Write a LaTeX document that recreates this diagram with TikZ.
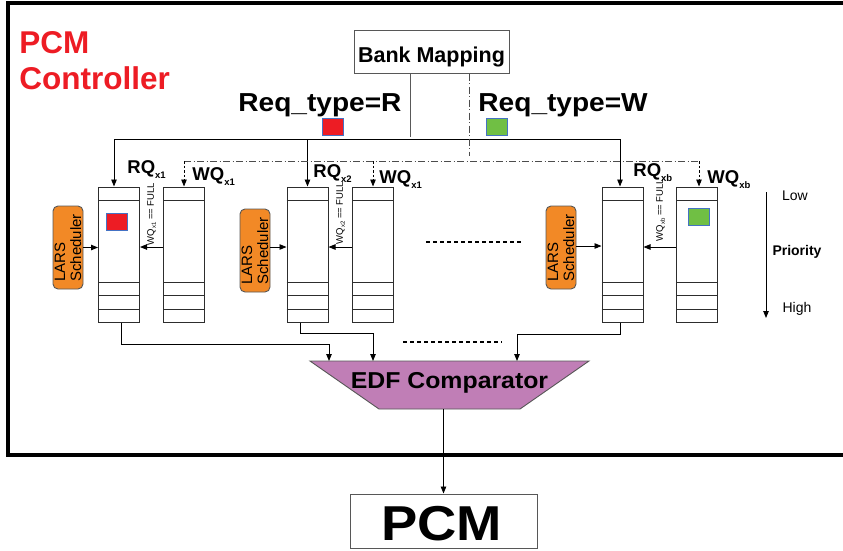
\documentclass[tikz,border=0pt]{standalone}
\usepackage{fontspec}
\setmainfont{Liberation Sans}
\usepackage{graphicx}
\usetikzlibrary{arrows.meta,calc}

\definecolor{ctrlred}{RGB}{237,28,36}
\definecolor{larsorange}{RGB}{242,137,38}
\definecolor{edfpurple}{RGB}{192,126,182}
\definecolor{reqgreen}{RGB}{112,191,68}
\definecolor{tagblue}{RGB}{68,114,196}
\definecolor{edge}{RGB}{45,45,45}

\newcommand{\setfs}[2]{\fontsize{#1}{#2}\selectfont}
\newcommand{\qsub}[1]{\raisebox{-5pt}{\setfs{9.5}{9.5}#1}}
\newcommand{\fsub}[1]{\raisebox{-2pt}{\setfs{6}{6}#1}}

\begin{document}
\begin{tikzpicture}[x=1pt,y=-1pt,
  line width=0.9pt,
  >={Triangle[length=7pt,width=5.5pt]},
  qbox/.style={draw=edge,line width=1pt,minimum width=41pt,minimum height=135pt,inner sep=0pt},
  larsbox/.style={draw=edge!80,fill=larsorange,rounded corners=5pt,minimum width=30pt,minimum height=83pt,inner sep=0pt},
  larstext/.style={rotate=90,align=left,font=\setfs{15}{16},inner sep=0pt},
  qlabel/.style={anchor=base west,inner sep=0pt,font=\bfseries\setfs{18.5}{18.5}},
  fulltext/.style={rotate=90,inner sep=0pt,font=\setfs{9.5}{9.5}},
  tagsq/.style={draw=tagblue,line width=0.8pt,minimum width=21pt,minimum height=17pt,inner sep=0pt},
  wline/.style={dash pattern=on 7pt off 2.5pt on 1pt off 2.5pt,draw=gray!60!black},
  wdrop/.style={->,dash pattern=on 2.5pt off 2pt},
  sepdots/.style={dash pattern=on 4pt off 3pt,line width=1.2pt},
  plainbox/.style={draw=edge!80,line width=1pt,inner sep=0pt},
]
\useasboundingbox (0,0) rectangle (843,550);

% controller frame (open on the right)
\draw[line width=3.5pt] (843,3) -- (8,3) -- (8,455) -- (843,455);

% title
\node[anchor=base west,inner sep=0pt,text=ctrlred,font=\bfseries\setfs{31.5}{31.5}] (title1) at (19,53) {PCM};
\node[anchor=base west,inner sep=0pt,text=ctrlred,font=\bfseries\setfs{31.5}{31.5}] (title2) at (19,89) {Controller};

% bank mapping
\node[plainbox,minimum width=155pt,minimum height=43pt] (bank) at (431.5,51.5) {};
\node[anchor=base,inner sep=0pt,font=\bfseries\setfs{21.5}{21.5}] (banktext) at (431.5,62.5) {Bank Mapping};

% request type labels and tags
\node[anchor=base west,inner sep=0pt,font=\bfseries\setfs{26}{26}] (reqr) at (238,111) {\scalebox{1.08}[1]{Req\_type=R}};
\node[anchor=base west,inner sep=0pt,font=\bfseries\setfs{26}{26}] (reqw) at (478,111) {\scalebox{1.08}[1]{Req\_type=W}};
\node[tagsq,fill=ctrlred] (tagr) at (332.5,126.5) {};
\node[tagsq,fill=reqgreen] (tagw) at (496.5,126.5) {};

% queues
\node[qbox] (rq1) at (119,254.5) {};
\node[qbox] (wq1) at (184,254.5) {};
\node[qbox] (rq2) at (307.5,254.5) {};
\node[qbox] (wq2) at (373,254.5) {};
\node[qbox] (rq3) at (622.5,254.5) {};
\node[qbox] (wq3) at (697,254.5) {};
\foreach \q in {rq1,wq1,rq2,wq2,rq3,wq3}{
  \foreach \dy in {14,96,109,123}{
    \draw[edge,line width=1pt] ($(\q.north west)+(0,\dy)$) -- ($(\q.north east)+(0,\dy)$);
  }
}

% queue labels
\node[qlabel] (lrq1) at (127,173) {RQ\qsub{x1}};
\node[qlabel] (lwq1) at (192,180) {WQ\qsub{x1}};
\node[qlabel] (lrq2) at (313,177) {RQ\qsub{x2}};
\node[qlabel] (lwq2) at (379,183) {WQ\qsub{x1}};
\node[qlabel] (lrq3) at (633,176) {RQ\qsub{xb}};
\node[qlabel] (lwq3) at (707,183) {WQ\qsub{xb}};

% tags inside the queues
\node[tagsq,fill=ctrlred] (tagq1) at (116.5,221.5) {};
\node[tagsq,fill=reqgreen] (tagq3) at (698.5,217) {};

% LARS schedulers
\node[larsbox] (lars1) at (68,247.5) {};
\node[larstext] (lars1t) at (68,248) {LARS\\Scheduler};
\node[larsbox] (lars2) at (255,250.5) {};
\node[larstext] (lars2t) at (255,251) {LARS\\Scheduler};
\node[larsbox] (lars3) at (561,247.5) {};
\node[larstext] (lars3t) at (561,248) {LARS\\Scheduler};
\draw[->] (lars1.east) -- (lars1.east -| rq1.west);
\draw[->] (lars2.east |- 0,247) -- (rq2.west |- 0,247);
\draw[->] (lars3.east |- 0,246) -- (rq3.west |- 0,246);

% write-queue overflow into read queue
\draw[->] ([yshift=7.5pt]wq1.west) -- ([yshift=7.5pt]rq1.east);
\draw[->] ([yshift=7.5pt]wq2.west) -- ([yshift=7.5pt]rq2.east);
\draw[->] ([yshift=7.5pt]wq3.west) -- ([yshift=7.5pt]rq3.east);
\node[fulltext] (full1) at (151.5,214) {WQ\fsub{x1} == FULL};
\node[fulltext] (full2) at (340.5,213) {WQ\fsub{x2} == FULL};
\node[fulltext] (full3) at (660.5,210) {WQ\fsub{xb} == FULL};

% read request bus
\coordinate (rsplit) at (410,139);
\coordinate (rbusL) at (114,139);
\coordinate (rbusR) at (620,139);
\coordinate (rtap2) at (307.5,139);
\draw[gray!70!black] (bank.south -| rsplit) -- ([yshift=2pt]rsplit);
\draw (rbusL) -- (rbusR);
\draw[->] (rbusL) -- (rbusL |- rq1.north);
\draw[->] (rtap2) -- (rq2.north);
\draw[->] (rbusR) -- (rbusR |- rq3.north);

% write request bus
\coordinate (wsplit) at (469,156);
\coordinate (wbusL) at (184,161);
\coordinate (wbusR) at (699,161);
\draw[wline] (bank.south -| wsplit) -- (wsplit);
\draw[wline] (wbusL) -- (wbusR);
\draw[wdrop] (wbusL) -- (wq1.north);
\draw[wdrop] (wq2.north |- wbusL) -- (wq2.north);
\draw[wdrop] (wbusR) -- (wbusR |- wq3.north);

% elided channels
\coordinate (dotsA) at (426,242);
\coordinate (dotsB) at (523,242);
\draw[sepdots] (dotsA) -- (dotsB);

% priority scale
\coordinate (plow) at (766,192);
\coordinate (phigh) at (766,318);
\draw[->] (plow) -- (phigh);
\node[font=\setfs{14}{14},inner sep=0pt] (low) at (795,196) {Low};
\node[font=\bfseries\setfs{14}{14},inner sep=0pt] (prio) at (797,252) {Priority};
\node[font=\setfs{14}{14},inner sep=0pt] (high) at (797,309) {High};

% EDF comparator
\path[fill=edfpurple,draw=edge!80] (310,361) -- (589,361) -- (520,409) -- (379,409) -- cycle;
\node[anchor=base,inner sep=0pt,font=\bfseries\setfs{23}{23}] (edf) at (449.5,388) {\scalebox{1.08}[1]{EDF Comparator}};
\coordinate (in1) at (329,361);
\coordinate (in2) at (373,361);
\coordinate (in3) at (517,361);
\coordinate (edfout) at (443.5,409);
\draw[->] ([xshift=2.5pt]rq1.south) |- ($(in1)+(0,-17)$) -- (in1);
\draw[->] ([xshift=-7.5pt]rq2.south) |- ($(in2)+(0,-28)$) -- (in2);
\draw[->] ([xshift=-2.5pt]rq3.south) |- ($(in3)+(0,-27)$) -- (in3);
\coordinate (dotsC) at (403,342);
\coordinate (dotsD) at (502,342);
\draw[sepdots] (dotsC) -- (dotsD);

% PCM device
\node[plainbox,minimum width=187pt,minimum height=54pt] (pcm) at (443.5,521) {};
\node[anchor=base,inner sep=0pt,font=\bfseries\setfs{49}{49}] (pcmtext) at (441.5,540) {\scalebox{1.11}[1]{PCM}};
\draw[->] (edfout) -- (pcm.north);
\end{tikzpicture}
\end{document}
